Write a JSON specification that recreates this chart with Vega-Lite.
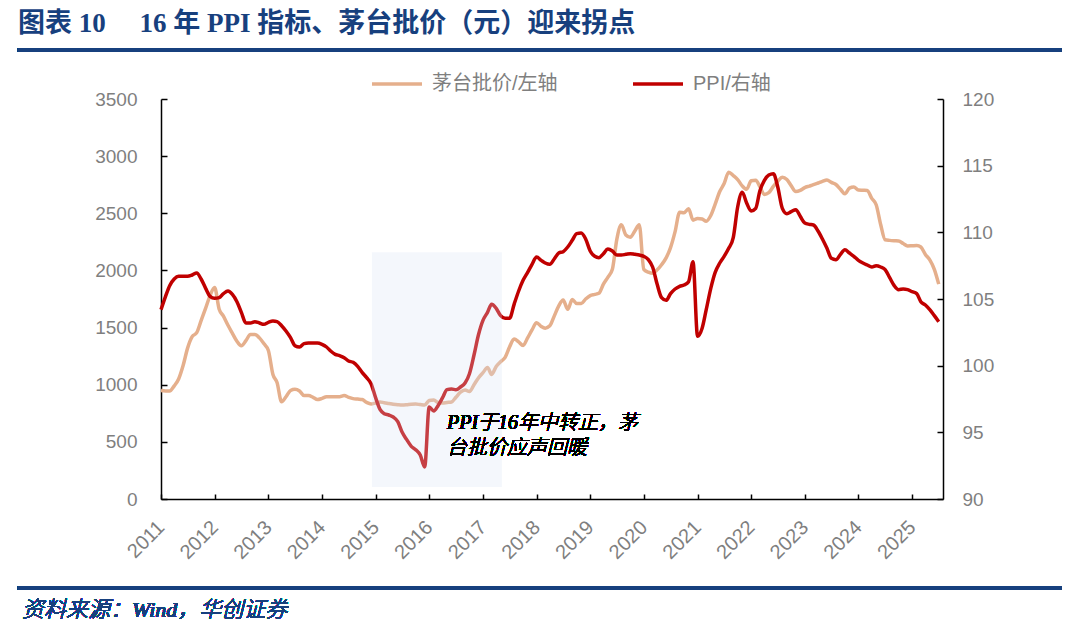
{
  "$schema": "https://vega.github.io/schema/vega-lite/v6.json",
  "width": 782,
  "height": 400,
  "autosize": {"type": "none"},
  "padding": {"left": 161, "top": 99, "right": 137, "bottom": 138},
  "background": "white",
  "title": {
    "text": "图表 10\u00a0\u00a0\u00a0\u00a0\u00a016 年 PPI 指标、茅台批价（元）迎来拐点",
    "anchor": "start",
    "frame": "group",
    "dx": -143,
    "offset": 10,
    "font": "Liberation Serif, Noto Sans CJK SC",
    "fontSize": 27,
    "fontWeight": "bold",
    "color": "#17407E"
  },
  "config": {
    "view": {"stroke": null},
    "axis": {
      "grid": false,
      "domainColor": "#000000",
      "domainWidth": 1.5,
      "tickColor": "#000000",
      "tickWidth": 1.5,
      "tickSize": -6,
      "labelColor": "#7F7F7F",
      "labelFont": "Liberation Sans",
      "labelFontSize": 19
    },
    "legend": {
      "orient": "none",
      "legendX": 209,
      "legendY": -42,
      "direction": "horizontal",
      "symbolType": "stroke",
      "symbolSize": 2500,
      "symbolStrokeWidth": 3.5,
      "labelFontSize": 20,
      "labelColor": "#7F7F7F",
      "labelFont": "Liberation Sans, Noto Sans CJK SC",
      "columnPadding": 68,
      "labelOffset": 8,
      "padding": 0
    }
  },
  "data": {
    "values": [
      {"date": "2011/01/01", "moutai": 949, "ppi": 104.2},
      {"date": "2011/02/01", "moutai": 945, "ppi": 105.2},
      {"date": "2011/03/01", "moutai": 945, "ppi": 106.0},
      {"date": "2011/04/01", "moutai": 990, "ppi": 106.5},
      {"date": "2011/05/01", "moutai": 1050, "ppi": 106.7},
      {"date": "2011/06/01", "moutai": 1170, "ppi": 106.7},
      {"date": "2011/07/01", "moutai": 1320, "ppi": 106.7},
      {"date": "2011/08/01", "moutai": 1420, "ppi": 106.8},
      {"date": "2011/09/01", "moutai": 1455, "ppi": 106.95},
      {"date": "2011/10/01", "moutai": 1560, "ppi": 106.5},
      {"date": "2011/11/01", "moutai": 1670, "ppi": 105.8},
      {"date": "2011/12/01", "moutai": 1780, "ppi": 105.2},
      {"date": "2012/01/01", "moutai": 1850, "ppi": 105.05},
      {"date": "2012/02/01", "moutai": 1660, "ppi": 105.1},
      {"date": "2012/03/01", "moutai": 1600, "ppi": 105.4},
      {"date": "2012/04/01", "moutai": 1520, "ppi": 105.6},
      {"date": "2012/05/01", "moutai": 1450, "ppi": 105.35},
      {"date": "2012/06/01", "moutai": 1380, "ppi": 104.8},
      {"date": "2012/07/01", "moutai": 1340, "ppi": 104.0},
      {"date": "2012/08/01", "moutai": 1385, "ppi": 103.2},
      {"date": "2012/09/01", "moutai": 1440, "ppi": 103.2},
      {"date": "2012/10/01", "moutai": 1440, "ppi": 103.3},
      {"date": "2012/11/01", "moutai": 1410, "ppi": 103.2},
      {"date": "2012/12/01", "moutai": 1360, "ppi": 103.1},
      {"date": "2013/01/01", "moutai": 1300, "ppi": 103.25},
      {"date": "2013/02/01", "moutai": 1090, "ppi": 103.35},
      {"date": "2013/03/01", "moutai": 1020, "ppi": 103.3},
      {"date": "2013/04/01", "moutai": 850, "ppi": 103.0},
      {"date": "2013/05/01", "moutai": 895, "ppi": 102.6},
      {"date": "2013/06/01", "moutai": 950, "ppi": 102.1},
      {"date": "2013/07/01", "moutai": 960, "ppi": 101.5},
      {"date": "2013/08/01", "moutai": 945, "ppi": 101.4},
      {"date": "2013/09/01", "moutai": 905, "ppi": 101.65},
      {"date": "2013/10/01", "moutai": 905, "ppi": 101.7},
      {"date": "2013/11/01", "moutai": 890, "ppi": 101.7},
      {"date": "2013/12/01", "moutai": 870, "ppi": 101.7},
      {"date": "2014/01/01", "moutai": 880, "ppi": 101.6},
      {"date": "2014/02/01", "moutai": 895, "ppi": 101.4},
      {"date": "2014/03/01", "moutai": 895, "ppi": 101.1},
      {"date": "2014/04/01", "moutai": 895, "ppi": 100.85},
      {"date": "2014/05/01", "moutai": 895, "ppi": 100.75},
      {"date": "2014/06/01", "moutai": 905, "ppi": 100.6},
      {"date": "2014/07/01", "moutai": 890, "ppi": 100.35},
      {"date": "2014/08/01", "moutai": 878, "ppi": 100.25},
      {"date": "2014/09/01", "moutai": 874, "ppi": 99.95},
      {"date": "2014/10/01", "moutai": 870, "ppi": 99.5},
      {"date": "2014/11/01", "moutai": 845, "ppi": 99.1},
      {"date": "2014/12/01", "moutai": 832, "ppi": 98.65},
      {"date": "2015/01/01", "moutai": 840, "ppi": 97.6},
      {"date": "2015/02/01", "moutai": 849, "ppi": 96.7},
      {"date": "2015/03/01", "moutai": 842, "ppi": 96.4},
      {"date": "2015/04/01", "moutai": 836, "ppi": 96.3},
      {"date": "2015/05/01", "moutai": 830, "ppi": 96.15},
      {"date": "2015/06/01", "moutai": 825, "ppi": 95.8},
      {"date": "2015/07/01", "moutai": 822, "ppi": 95.0},
      {"date": "2015/08/01", "moutai": 825, "ppi": 94.45},
      {"date": "2015/09/01", "moutai": 830, "ppi": 93.95},
      {"date": "2015/10/01", "moutai": 831, "ppi": 93.7},
      {"date": "2015/11/01", "moutai": 826, "ppi": 93.3},
      {"date": "2015/12/01", "moutai": 822, "ppi": 92.4},
      {"date": "2016/01/01", "moutai": 862, "ppi": 96.9},
      {"date": "2016/02/01", "moutai": 866, "ppi": 96.6},
      {"date": "2016/03/01", "moutai": 845, "ppi": 97.0},
      {"date": "2016/04/01", "moutai": 840, "ppi": 97.6},
      {"date": "2016/05/01", "moutai": 845, "ppi": 98.2},
      {"date": "2016/06/01", "moutai": 849, "ppi": 98.25},
      {"date": "2016/07/01", "moutai": 890, "ppi": 98.2},
      {"date": "2016/08/01", "moutai": 935, "ppi": 98.4},
      {"date": "2016/09/01", "moutai": 954, "ppi": 98.7},
      {"date": "2016/10/01", "moutai": 940, "ppi": 99.4},
      {"date": "2016/11/01", "moutai": 1000, "ppi": 100.8},
      {"date": "2016/12/01", "moutai": 1059, "ppi": 102.3},
      {"date": "2017/01/01", "moutai": 1105, "ppi": 103.4},
      {"date": "2017/02/01", "moutai": 1150, "ppi": 104.0},
      {"date": "2017/03/01", "moutai": 1090, "ppi": 104.6},
      {"date": "2017/04/01", "moutai": 1160, "ppi": 104.3},
      {"date": "2017/05/01", "moutai": 1201, "ppi": 103.75},
      {"date": "2017/06/01", "moutai": 1240, "ppi": 103.55},
      {"date": "2017/07/01", "moutai": 1330, "ppi": 103.55},
      {"date": "2017/08/01", "moutai": 1400, "ppi": 104.6},
      {"date": "2017/09/01", "moutai": 1375, "ppi": 105.6},
      {"date": "2017/10/01", "moutai": 1343, "ppi": 106.4},
      {"date": "2017/11/01", "moutai": 1410, "ppi": 107.0},
      {"date": "2017/12/01", "moutai": 1479, "ppi": 107.6},
      {"date": "2018/01/01", "moutai": 1543, "ppi": 108.15},
      {"date": "2018/02/01", "moutai": 1510, "ppi": 107.9},
      {"date": "2018/03/01", "moutai": 1495, "ppi": 107.7},
      {"date": "2018/04/01", "moutai": 1515, "ppi": 107.6},
      {"date": "2018/05/01", "moutai": 1600, "ppi": 108.0},
      {"date": "2018/06/01", "moutai": 1690, "ppi": 108.45},
      {"date": "2018/07/01", "moutai": 1741, "ppi": 108.55},
      {"date": "2018/08/01", "moutai": 1660, "ppi": 108.9},
      {"date": "2018/09/01", "moutai": 1745, "ppi": 109.4},
      {"date": "2018/10/01", "moutai": 1710, "ppi": 109.9},
      {"date": "2018/11/01", "moutai": 1710, "ppi": 109.95},
      {"date": "2018/12/01", "moutai": 1750, "ppi": 109.5},
      {"date": "2019/01/01", "moutai": 1780, "ppi": 108.6},
      {"date": "2019/02/01", "moutai": 1790, "ppi": 108.2},
      {"date": "2019/03/01", "moutai": 1800, "ppi": 108.1},
      {"date": "2019/04/01", "moutai": 1880, "ppi": 108.4},
      {"date": "2019/05/01", "moutai": 1940, "ppi": 108.75},
      {"date": "2019/06/01", "moutai": 2010, "ppi": 108.6},
      {"date": "2019/07/01", "moutai": 2270, "ppi": 108.3},
      {"date": "2019/08/01", "moutai": 2400, "ppi": 108.3},
      {"date": "2019/09/01", "moutai": 2310, "ppi": 108.35},
      {"date": "2019/10/01", "moutai": 2290, "ppi": 108.4},
      {"date": "2019/11/01", "moutai": 2345, "ppi": 108.35},
      {"date": "2019/12/01", "moutai": 2400, "ppi": 108.3},
      {"date": "2020/01/01", "moutai": 2010, "ppi": 108.2},
      {"date": "2020/02/01", "moutai": 1985, "ppi": 107.95},
      {"date": "2020/03/01", "moutai": 1975, "ppi": 107.4},
      {"date": "2020/04/01", "moutai": 2005, "ppi": 106.1},
      {"date": "2020/05/01", "moutai": 2050, "ppi": 105.1},
      {"date": "2020/06/01", "moutai": 2110, "ppi": 104.9},
      {"date": "2020/07/01", "moutai": 2200, "ppi": 105.4},
      {"date": "2020/08/01", "moutai": 2340, "ppi": 105.75},
      {"date": "2020/09/01", "moutai": 2510, "ppi": 105.95},
      {"date": "2020/10/01", "moutai": 2505, "ppi": 106.05},
      {"date": "2020/11/01", "moutai": 2540, "ppi": 106.3},
      {"date": "2020/12/01", "moutai": 2440, "ppi": 107.8},
      {"date": "2021/01/01", "moutai": 2455, "ppi": 102.2},
      {"date": "2021/02/01", "moutai": 2450, "ppi": 102.8},
      {"date": "2021/03/01", "moutai": 2430, "ppi": 104.2},
      {"date": "2021/04/01", "moutai": 2480, "ppi": 105.8},
      {"date": "2021/05/01", "moutai": 2580, "ppi": 107.0},
      {"date": "2021/06/01", "moutai": 2690, "ppi": 107.7},
      {"date": "2021/07/01", "moutai": 2760, "ppi": 108.2},
      {"date": "2021/08/01", "moutai": 2860, "ppi": 108.8},
      {"date": "2021/09/01", "moutai": 2830, "ppi": 109.6},
      {"date": "2021/10/01", "moutai": 2795, "ppi": 111.9},
      {"date": "2021/11/01", "moutai": 2740, "ppi": 113.0},
      {"date": "2021/12/01", "moutai": 2710, "ppi": 112.2},
      {"date": "2022/01/01", "moutai": 2785, "ppi": 111.6},
      {"date": "2022/02/01", "moutai": 2790, "ppi": 111.8},
      {"date": "2022/03/01", "moutai": 2733, "ppi": 113.1},
      {"date": "2022/04/01", "moutai": 2665, "ppi": 113.9},
      {"date": "2022/05/01", "moutai": 2680, "ppi": 114.3},
      {"date": "2022/06/01", "moutai": 2735, "ppi": 114.4},
      {"date": "2022/07/01", "moutai": 2780, "ppi": 113.4},
      {"date": "2022/08/01", "moutai": 2815, "ppi": 111.8},
      {"date": "2022/09/01", "moutai": 2795, "ppi": 111.4},
      {"date": "2022/10/01", "moutai": 2740, "ppi": 111.55},
      {"date": "2022/11/01", "moutai": 2690, "ppi": 111.7},
      {"date": "2022/12/01", "moutai": 2700, "ppi": 111.2},
      {"date": "2023/01/01", "moutai": 2725, "ppi": 110.7},
      {"date": "2023/02/01", "moutai": 2738, "ppi": 110.6},
      {"date": "2023/03/01", "moutai": 2750, "ppi": 110.55},
      {"date": "2023/04/01", "moutai": 2765, "ppi": 110.1},
      {"date": "2023/05/01", "moutai": 2780, "ppi": 109.5},
      {"date": "2023/06/01", "moutai": 2792, "ppi": 108.8},
      {"date": "2023/07/01", "moutai": 2770, "ppi": 108.05},
      {"date": "2023/08/01", "moutai": 2752, "ppi": 107.95},
      {"date": "2023/09/01", "moutai": 2710, "ppi": 108.35},
      {"date": "2023/10/01", "moutai": 2670, "ppi": 108.7},
      {"date": "2023/11/01", "moutai": 2720, "ppi": 108.45},
      {"date": "2023/12/01", "moutai": 2730, "ppi": 108.2},
      {"date": "2024/01/01", "moutai": 2704, "ppi": 107.9},
      {"date": "2024/02/01", "moutai": 2702, "ppi": 107.7},
      {"date": "2024/03/01", "moutai": 2700, "ppi": 107.55},
      {"date": "2024/04/01", "moutai": 2630, "ppi": 107.4},
      {"date": "2024/05/01", "moutai": 2575, "ppi": 107.5},
      {"date": "2024/06/01", "moutai": 2400, "ppi": 107.4},
      {"date": "2024/07/01", "moutai": 2268, "ppi": 107.2},
      {"date": "2024/08/01", "moutai": 2263, "ppi": 106.6},
      {"date": "2024/09/01", "moutai": 2260, "ppi": 106.0},
      {"date": "2024/10/01", "moutai": 2258, "ppi": 105.7},
      {"date": "2024/11/01", "moutai": 2235, "ppi": 105.75},
      {"date": "2024/12/01", "moutai": 2214, "ppi": 105.7},
      {"date": "2025/01/01", "moutai": 2216, "ppi": 105.55},
      {"date": "2025/02/01", "moutai": 2218, "ppi": 105.4},
      {"date": "2025/03/01", "moutai": 2205, "ppi": 104.8},
      {"date": "2025/04/01", "moutai": 2140, "ppi": 104.55},
      {"date": "2025/05/01", "moutai": 2093, "ppi": 104.2},
      {"date": "2025/06/01", "moutai": 2010, "ppi": 103.75},
      {"date": "2025/07/01", "moutai": 1880, "ppi": 103.3}
    ]
  },
  "layer": [
    {
      "mark": {"type": "line", "strokeWidth": 3.5, "interpolate": "monotone"},
      "encoding": {
        "x": {
          "field": "date",
          "type": "temporal",
          "title": null,
          "scale": {"domain": [{"year": 2011, "month": 1, "date": 1}, {"year": 2025, "month": 7, "date": 30}]},
          "axis": {
            "format": "%Y",
            "tickCount": {"interval": "year", "step": 1},
            "labelAngle": -45,
            "labelAlign": "right",
            "labelBaseline": "middle",
            "labelPadding": 30,
            "labelFontSize": 20,
            "tickSize": -5
          }
        },
        "y": {
          "field": "moutai",
          "type": "quantitative",
          "title": null,
          "scale": {"domain": [0, 3500]},
          "axis": {"orient": "left", "format": "d", "values": [0, 500, 1000, 1500, 2000, 2500, 3000, 3500], "labelPadding": 30}
        },
        "color": {
          "datum": "茅台批价/左轴",
          "scale": {"domain": ["茅台批价/左轴", "PPI/右轴"], "range": ["#E5AF8C", "#C00000"]},
          "legend": {"title": null}
        }
      }
    },
    {
      "mark": {"type": "line", "strokeWidth": 3.5, "interpolate": "monotone"},
      "encoding": {
        "x": {"field": "date", "type": "temporal"},
        "y": {
          "field": "ppi",
          "type": "quantitative",
          "title": null,
          "scale": {"domain": [90, 120]},
          "axis": {"orient": "right", "format": "d", "values": [90, 95, 100, 105, 110, 115, 120], "labelPadding": 25}
        },
        "color": {"datum": "PPI/右轴"}
      }
    },
    {
      "layer": [
        {
          "data": {"values": [{"start": "2014/12/07", "end": "2017/05/10", "low": 105, "high": 2160}]},
          "mark": {"type": "rect", "fill": "#D6E2F5", "opacity": 0.28},
          "encoding": {
            "x": {"field": "start", "type": "temporal"},
            "x2": {"field": "end"},
            "y": {"field": "low", "type": "quantitative", "scale": {"domain": [0, 3500]}, "axis": null},
            "y2": {"field": "high"}
          }
        },
        {
          "mark": {
            "type": "text",
            "text": ["PPI于16年中转正，茅", "台批价应声回暖"],
            "align": "left",
            "baseline": "top",
            "lineHeight": 25,
            "font": "Liberation Serif, Noto Sans CJK SC",
            "fontStyle": "italic",
            "fontWeight": 300,
            "fontSize": 20,
            "color": "#000000"
          },
          "encoding": {
            "x": {"datum": {"year": 2016, "month": 5, "date": 1}, "type": "temporal"},
            "y": {"datum": 755, "type": "quantitative", "scale": {"domain": [0, 3500]}, "axis": null}
          }
        },
        {
          "mark": {"type": "rule", "color": "#17407E", "strokeWidth": 3},
          "encoding": {
            "x": {"datum": {"year": 2008, "month": 5, "date": 2}, "type": "temporal"},
            "x2": {"datum": {"year": 2027, "month": 10, "date": 18}},
            "y": {"datum": 3929, "type": "quantitative", "scale": {"domain": [0, 3500]}, "axis": null}
          }
        },
        {
          "mark": {"type": "rule", "color": "#17407E", "strokeWidth": 3},
          "encoding": {
            "x": {"datum": {"year": 2008, "month": 5, "date": 2}, "type": "temporal"},
            "x2": {"datum": {"year": 2027, "month": 10, "date": 18}},
            "y": {"datum": -779, "type": "quantitative", "scale": {"domain": [0, 3500]}, "axis": null}
          }
        },
        {
          "mark": {
            "type": "text",
            "text": "资料来源：Wind，华创证券",
            "align": "left",
            "baseline": "middle",
            "font": "Liberation Serif, Noto Sans CJK SC",
            "fontStyle": "italic",
            "fontWeight": 300,
            "fontSize": 22,
            "color": "#17407E"
          },
          "encoding": {
            "x": {"datum": {"year": 2008, "month": 5, "date": 30}, "type": "temporal"},
            "y": {"datum": -971, "type": "quantitative", "scale": {"domain": [0, 3500]}, "axis": null}
          }
        }
      ]
    }
  ],
  "resolve": {"scale": {"y": "independent"}}
}
